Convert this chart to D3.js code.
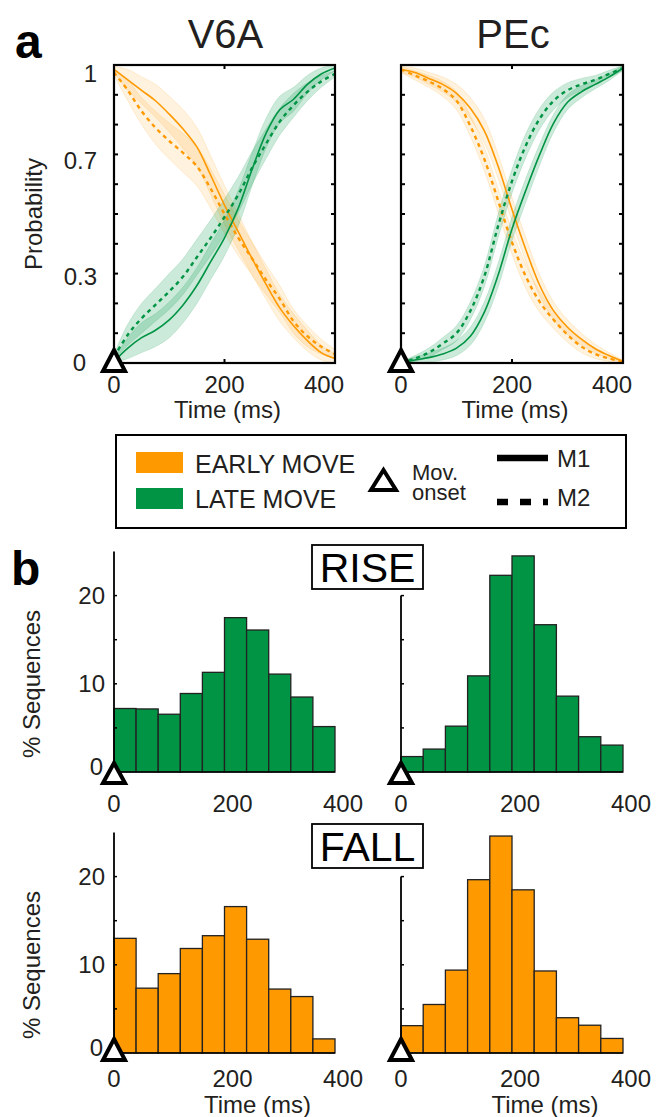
<!DOCTYPE html>
<html><head><meta charset="utf-8">
<script src="https://cdn.jsdelivr.net/npm/d3@7"></script>
<style>body{margin:0;background:#fff}svg{display:block;font-family:"Liberation Sans",Arial,sans-serif}</style>
</head><body><svg id="c" width="656" height="1117"></svg>
<script>
// ---------- DATA ----------
const times = [0,25,50,75,100,125,150,175,200,225,250,275,300,325,350,375,400];
// V6A probability curves
const v6aEarlyM1 = [0.985,0.95,0.915,0.88,0.835,0.785,0.725,0.63,0.53,0.44,0.35,0.265,0.185,0.125,0.075,0.035,0.015];
const v6aEarlyM2 = [0.975,0.915,0.845,0.79,0.745,0.705,0.66,0.585,0.50,0.42,0.35,0.28,0.215,0.14,0.09,0.055,0.03];
const v6aLateM1  = [0.005,0.05,0.085,0.11,0.145,0.195,0.26,0.34,0.42,0.52,0.65,0.77,0.85,0.885,0.935,0.97,0.99];
const v6aLateM2  = [0.02,0.095,0.15,0.195,0.24,0.29,0.355,0.42,0.49,0.565,0.655,0.735,0.81,0.865,0.91,0.945,0.97];
const v6aEarlyErr = [0.01,0.035,0.045,0.055,0.06,0.065,0.065,0.065,0.065,0.06,0.055,0.05,0.045,0.04,0.035,0.025,0.015];
const v6aLateErr  = [0.01,0.035,0.05,0.055,0.06,0.06,0.06,0.06,0.06,0.06,0.055,0.05,0.045,0.04,0.03,0.02,0.01];
// PEc probability curves
const pecEarlyM1 = [0.985,0.975,0.955,0.935,0.905,0.855,0.78,0.66,0.515,0.38,0.26,0.175,0.12,0.08,0.048,0.025,0.005];
const pecEarlyM2 = [0.985,0.965,0.945,0.92,0.88,0.795,0.685,0.545,0.405,0.29,0.205,0.145,0.095,0.055,0.03,0.015,0.005];
const pecLateM1  = [0.0,0.01,0.018,0.03,0.05,0.09,0.17,0.295,0.45,0.58,0.70,0.805,0.875,0.91,0.935,0.96,0.99];
const pecLateM2  = [0.0,0.015,0.035,0.065,0.10,0.175,0.29,0.46,0.61,0.73,0.82,0.88,0.915,0.935,0.95,0.97,0.99];
const pecEarlyErr = [0.01,0.015,0.02,0.025,0.03,0.035,0.04,0.04,0.04,0.04,0.035,0.03,0.025,0.02,0.015,0.01,0.005];
const pecLateErr  = [0.005,0.01,0.015,0.02,0.025,0.03,0.035,0.04,0.04,0.04,0.035,0.03,0.025,0.02,0.015,0.012,0.008];
// Histograms (% sequences), bins of 40 ms
const binStarts = [0,40,80,120,160,200,240,280,320,360];
const binWidth = 40;
const riseV6A = [7.2,7.15,6.55,8.9,11.3,17.5,16.1,11.1,8.5,5.15];
const risePEc = [1.75,2.6,5.2,10.9,22.3,24.5,16.7,8.6,4.0,3.05];
const fallV6A = [13.0,7.35,9.0,11.85,13.3,16.6,12.9,7.25,6.4,1.6];
const fallPEc = [3.1,5.5,9.4,19.65,24.6,18.5,9.3,4.0,3.15,1.65];
// Ticks / labels
const timeTicks = [0,200,400];
const probTicks = [0,0.1,0.2,0.3,0.4,0.5,0.6,0.7,0.8,0.9,1];
const probLabels = [0,0.3,0.7,1];
const histTicks = [0,5,10,15,20];
const histLabels = [0,10,20];
const areaNames = ["V6A","PEc"];
const legendColors = ["EARLY MOVE","LATE MOVE"];
const legendLines = ["M1","M2"];

const ORANGE = "#ff9900", GREEN = "#009444", TXT = "#231f20";
const svg = d3.select("#c");
const curve = d3.curveCatmullRom.alpha(0.5);

function triangle(cx, cy, up, down) {
  svg.append("path").attr("d",`M${cx},${cy+up} L${cx+11},${cy+down} L${cx-11},${cy+down} Z`)
    .attr("fill","#fff").attr("stroke","#000").attr("stroke-width",4).attr("stroke-linejoin","miter");
}

// ---------- PANEL A ----------
function panelA(x0, x1, title, early1, early2, late1, late2, eErr, lErr, showY) {
  const x = d3.scaleLinear().domain([0,400]).range([x0,x1]);
  const y = d3.scaleLinear().domain([0,1]).range([363,65]);
  const g = svg.append("g");
  const area = (vals, err) => d3.area().curve(curve).x((d,i)=>x(times[i])).y0((d,i)=>y(Math.max(0,vals[i]-err[i]))).y1((d,i)=>y(Math.min(1,vals[i]+err[i])))(vals);
  const line = vals => d3.line().curve(curve).x((d,i)=>x(times[i])).y(d=>y(d))(vals);
  [[early1,eErr,ORANGE,0.13],[early2,eErr,ORANGE,0.13],[late1,lErr,GREEN,0.2],[late2,lErr,GREEN,0.2]].forEach(([v,e,c,o])=>{
    g.append("path").attr("d",area(v,e)).attr("fill",c).attr("fill-opacity",o).attr("stroke",c).attr("stroke-opacity",0.15).attr("stroke-width",1);
  });
  [[early1,ORANGE,null,1.6],[early2,ORANGE,"4,4",2.4],[late1,GREEN,null,1.6],[late2,GREEN,"4,4",2.4]].forEach(([v,c,dash,w])=>{
    g.append("path").attr("d",line(v)).attr("fill","none").attr("stroke",c).attr("stroke-width",w).attr("stroke-dasharray",dash);
  });
  g.append("rect").attr("x",x0).attr("y",65).attr("width",x1-x0).attr("height",298).attr("fill","none").attr("stroke","#000").attr("stroke-width",2.2);
  probTicks.forEach(t=>{
    g.append("line").attr("x1",x0).attr("x2",x0+4).attr("y1",y(t)).attr("y2",y(t)).attr("stroke","#000").attr("stroke-width",2);
    g.append("line").attr("x1",x1).attr("x2",x1-4).attr("y1",y(t)).attr("y2",y(t)).attr("stroke","#000").attr("stroke-width",2);
  });
  timeTicks.forEach(t=>{
    g.append("line").attr("x1",x(t)).attr("x2",x(t)).attr("y1",363).attr("y2",359).attr("stroke","#000").attr("stroke-width",2);
    g.append("line").attr("x1",x(t)).attr("x2",x(t)).attr("y1",65).attr("y2",69).attr("stroke","#000").attr("stroke-width",2);
    const tx = t===400 ? x(t)-11 : x(t);
    g.append("text").attr("x",tx).attr("y",393).attr("text-anchor","middle").attr("font-size",24).attr("fill",TXT).text(t);
  });
  g.append("text").attr("x",(x0+x1)/2+3).attr("y",418).attr("text-anchor","middle").attr("font-size",24).attr("fill",TXT).text("Time (ms)");
  g.append("text").attr("x",(x0+x1)/2+1).attr("y",48).attr("text-anchor","middle").attr("font-size",40).attr("fill",TXT).text(title);
  if (showY) {
    probLabels.forEach(t=>{
      const lx = t===0 ? 86 : 97;
      g.append("text").attr("x",lx).attr("y",y(t)+9*t).attr("dy","0.35em").attr("text-anchor","end").attr("font-size",24).attr("fill",TXT).text(t);
    });
    g.append("text").attr("transform","translate(42,214) rotate(-90)").attr("text-anchor","middle").attr("font-size",24).attr("fill",TXT).text("Probability");
  }
  triangle(x(0), 363, -13, 8);
}

panelA(114,335,areaNames[0],v6aEarlyM1,v6aEarlyM2,v6aLateM1,v6aLateM2,v6aEarlyErr,v6aLateErr,true);
panelA(401,623,areaNames[1],pecEarlyM1,pecEarlyM2,pecLateM1,pecLateM2,pecEarlyErr,pecLateErr,false);

svg.append("text").attr("x",15).attr("y",58).attr("font-size",48).attr("font-weight","bold").attr("fill","#000").text("a");
svg.append("text").attr("x",11).attr("y",585).attr("font-size",48).attr("font-weight","bold").attr("fill","#000").text("b");

// ---------- LEGEND ----------
const lg = svg.append("g");
lg.append("rect").attr("x",116).attr("y",435).attr("width",510).attr("height",93).attr("fill","none").attr("stroke","#000").attr("stroke-width",2);
[ORANGE,GREEN].forEach((c,i)=>{
  lg.append("rect").attr("x",136).attr("y",452+i*36).attr("width",47).attr("height",21).attr("fill",c);
  lg.append("text").attr("x",195).attr("y",473+i*35).attr("font-size",25).attr("fill",TXT).text(legendColors[i]);
});
lg.append("path").attr("d","M383.5,470 L396,490 L371,490 Z").attr("fill","#fff").attr("stroke","#000").attr("stroke-width",4);
lg.append("text").attr("x",412).attr("y",480).attr("font-size",22).attr("fill",TXT).text("Mov.");
lg.append("text").attr("x",412).attr("y",500).attr("font-size",22).attr("fill",TXT).text("onset");
[null,"11,12"].forEach((d,i)=>{
  lg.append("line").attr("x1",497).attr("x2",548).attr("y1",458+i*44).attr("y2",458+i*44).attr("stroke","#000").attr("stroke-width",6.5).attr("stroke-dasharray",d);
  lg.append("text").attr("x",557).attr("y",467+i*39).attr("font-size",24).attr("fill",TXT).text(legendLines[i]);
});

// ---------- PANEL B ----------
function hist(x0, x1, y0, vals, color, axisTop, showY, labelDy, showXLabel, tri) {
  const x = d3.scaleLinear().domain([0,400]).range([x0,x1]);
  const y = d3.scaleLinear().domain([0,25]).range([y0,y0-220.5]);
  const g = svg.append("g");
  g.selectAll("rect.bar").data(vals).enter().append("rect")
    .attr("x",(d,i)=>x(binStarts[i])).attr("width",(d,i)=>x(binStarts[i]+binWidth)-x(binStarts[i]))
    .attr("y",d=>y(d)).attr("height",d=>y(0)-y(d))
    .attr("fill",color).attr("stroke","#222").attr("stroke-width",1.3);
  g.append("line").attr("x1",x0).attr("x2",x1).attr("y1",y0).attr("y2",y0).attr("stroke","#000").attr("stroke-width",1.5);
  g.append("line").attr("x1",x0).attr("x2",x0).attr("y1",y0).attr("y2",y(axisTop)).attr("stroke","#000").attr("stroke-width",1.8);
  histTicks.filter(t=>t<=axisTop).forEach(t=>{
    g.append("line").attr("x1",x0).attr("x2",x0+3).attr("y1",y(t)).attr("y2",y(t)).attr("stroke","#000").attr("stroke-width",1.5);
  });
  if (showY) {
    histLabels.forEach(t=>{
      g.append("text").attr("x",t===0?103:105).attr("y",t===0?y(t)-5:y(t)).attr("dy","0.35em").attr("text-anchor","end").attr("font-size",24).attr("fill",TXT).text(t);
    });
    g.append("text").attr("transform",`translate(40,${y0-88}) rotate(-90)`).attr("text-anchor","middle").attr("font-size",24).attr("fill",TXT).text("% Sequences");
  }
  timeTicks.forEach(t=>{
    g.append("text").attr("x",x(t)+(t>0?8:0)).attr("y",y0+labelDy).attr("text-anchor","middle").attr("font-size",24).attr("fill",TXT).text(t);
  });
  if (showXLabel) g.append("text").attr("x",(x0+x1)/2+33).attr("y",y0+60).attr("text-anchor","middle").attr("font-size",24).attr("fill",TXT).text("Time (ms)");
  triangle(x0, y0, tri[0], tri[1]);
}
hist(114,335,772,riseV6A,GREEN,25,true,40,false,[-9,11]);
hist(401,623,772,risePEc,GREEN,20,false,40,false,[-9,11]);
hist(114,335,1053,fallV6A,ORANGE,25,true,34,true,[-14,7]);
hist(401,623,1053,fallPEc,ORANGE,20,false,34,true,[-14,7]);

[["RISE",545],["FALL",824]].forEach(([t,yt])=>{
  svg.append("rect").attr("x",312).attr("y",yt).attr("width",111).attr("height",44).attr("fill","#fff").attr("stroke","#000").attr("stroke-width",1.8);
  svg.append("text").attr("x",367.5).attr("y",yt+37).attr("text-anchor","middle").attr("font-size",41).attr("fill","#000").text(t);
});
</script></body></html>
